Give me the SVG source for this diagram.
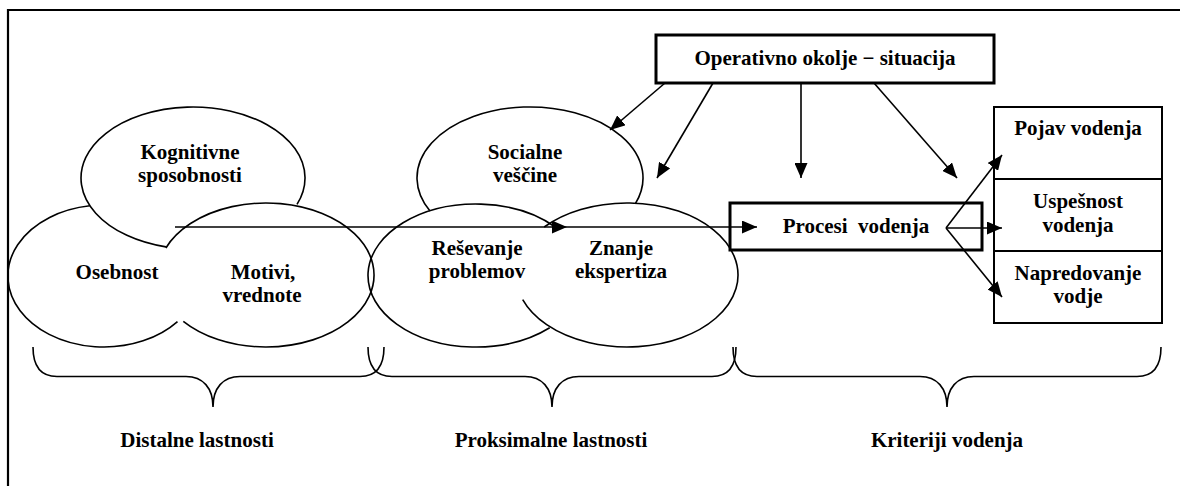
<svg xmlns="http://www.w3.org/2000/svg" width="1180" height="486" viewBox="0 0 1180 486">
  <style>
    .lbl { font-family: 'Liberation Serif', 'DejaVu Serif', serif; font-weight: 700; font-size: 21px; fill: #000; text-anchor: middle; }
    .ell { fill: none; stroke: #000; stroke-width: 1.6; }
    .box { fill: #fff; stroke: #000; stroke-width: 3; }
    .cell { fill: #fff; stroke: #000; stroke-width: 2; }
    .conn { fill: none; stroke: #000; stroke-width: 1.6; marker-end: url(#ah); }
    .brace { fill: none; stroke: #000; stroke-width: 1.6; }
    .frame { fill: none; stroke: #000; stroke-width: 2.2; }
  </style>
  <defs>
    <marker id="ah" markerUnits="userSpaceOnUse" markerWidth="15" markerHeight="13" refX="15" refY="6.5" orient="auto">
      <path d="M0,0 L15,6.5 L0,13 Z" fill="#000"/>
    </marker>
  </defs>

  <rect width="1180" height="486" fill="#fff"/>
  <!-- open frame: top and left edges only -->
  <path class="frame" d="M8,486 L8,10 L1180,10"/>

  <g font-family="Liberation Serif, DejaVu Serif, serif">
  <!-- distal traits: overlapping ellipses, only the visible arcs are stroked -->
  <g id="osebnost">
    <path class="ell" d="M89.8,205.8 A96,71 0 1 0 177.5,321.6"/>
    <text class="lbl" x="117" y="279">Osebnost</text>
  </g>
  <g id="kognitivne">
    <path class="ell" d="M165.9,246.9 A112,71 0 1 1 297,204.4"/>
    <text class="lbl" x="190" y="159">Kognitivne</text>
    <text class="lbl" x="190" y="182">sposobnosti</text>
  </g>
  <g id="motivi">
    <path class="ell" d="M165.9,248 A108,72 0 1 1 183.3,321.3"/>
    <text class="lbl" x="263" y="279">Motivi,</text>
    <text class="lbl" x="262" y="302">vrednote</text>
  </g>

  <!-- proximal traits -->
  <g id="socialne">
    <path class="ell" d="M430,211 A113,71 0 1 1 635.5,203.4"/>
    <text class="lbl" x="525" y="159">Socialne</text>
    <text class="lbl" x="525" y="182">veščine</text>
  </g>
  <g id="resevanje">
    <path class="ell" d="M556,227.5 A108,71.5 0 1 0 549.7,327.8"/>
    <text class="lbl" x="477" y="255">Reševanje</text>
    <text class="lbl" x="477" y="278">problemov</text>
  </g>
  <g id="znanje">
    <path class="ell" d="M544.2,227 A111,72 0 1 1 522.7,299.6"/>
    <text class="lbl" x="621" y="255">Znanje</text>
    <text class="lbl" x="621" y="278">ekspertiza</text>
  </g>

  <!-- situation and process boxes -->
  <g id="okolje">
    <rect class="box" x="656" y="35" width="338" height="48"/>
    <text class="lbl" x="825" y="65">Operativno okolje − situacija</text>
  </g>
  <g id="procesi">
    <rect class="box" x="730" y="203" width="252" height="47"/>
    <text class="lbl" x="856" y="233">Procesi&#160; vodenja</text>
  </g>

  <!-- criteria column -->
  <g id="pojav">
    <rect class="cell" x="994" y="107" width="168" height="72"/>
    <text class="lbl" x="1078" y="135">Pojav vodenja</text>
  </g>
  <g id="uspesnost">
    <rect class="cell" x="994" y="179" width="168" height="72"/>
    <text class="lbl" x="1078" y="208">Uspešnost</text>
    <text class="lbl" x="1078" y="232">vodenja</text>
  </g>
  <g id="napredovanje">
    <rect class="cell" x="994" y="251" width="168" height="72"/>
    <text class="lbl" x="1078" y="280">Napredovanje</text>
    <text class="lbl" x="1078" y="303">vodje</text>
  </g>

  <!-- braces with their captions -->
  <g id="distalne">
    <path class="brace" d="M33,347 C33,365 40,376.5 57,376.5 L186,376.5 C203,376.5 213,388 213,407 C213,388 223,376.5 240,376.5 L360,376.5 C377,376.5 384,365 384,347"/>
    <text class="lbl" x="197" y="447">Distalne lastnosti</text>
  </g>
  <g id="proksimalne">
    <path class="brace" d="M368,347 C368,365 375,376.5 392,376.5 L525,376.5 C542,376.5 552,388 552,407 C552,388 562,376.5 579,376.5 L712,376.5 C729,376.5 736,365 736,347"/>
    <text class="lbl" x="551" y="447">Proksimalne lastnosti</text>
  </g>
  <g id="kriteriji">
    <path class="brace" d="M733,347 C733,365 740,376.5 757,376.5 L920,376.5 C937,376.5 947,388 947,407 C947,388 957,376.5 974,376.5 L1137,376.5 C1154,376.5 1161,365 1161,347"/>
    <text class="lbl" x="947" y="447">Kriteriji vodenja</text>
  </g>
  </g>

  <!-- connectors -->
  <g id="connectors">
    <line class="conn" x1="175" y1="227" x2="567" y2="227"/>
    <line class="conn" x1="567" y1="227" x2="757" y2="227"/>
    <line class="conn" x1="665" y1="83" x2="610" y2="130"/>
    <line class="conn" x1="713" y1="83" x2="657" y2="178"/>
    <line class="conn" x1="801" y1="83" x2="801" y2="178"/>
    <line class="conn" x1="874" y1="83" x2="957" y2="178"/>
    <line class="conn" x1="946" y1="228" x2="1002" y2="155"/>
    <line class="conn" x1="946" y1="228" x2="1002" y2="228"/>
    <line class="conn" x1="946" y1="228" x2="1002" y2="297"/>
  </g>
</svg>
